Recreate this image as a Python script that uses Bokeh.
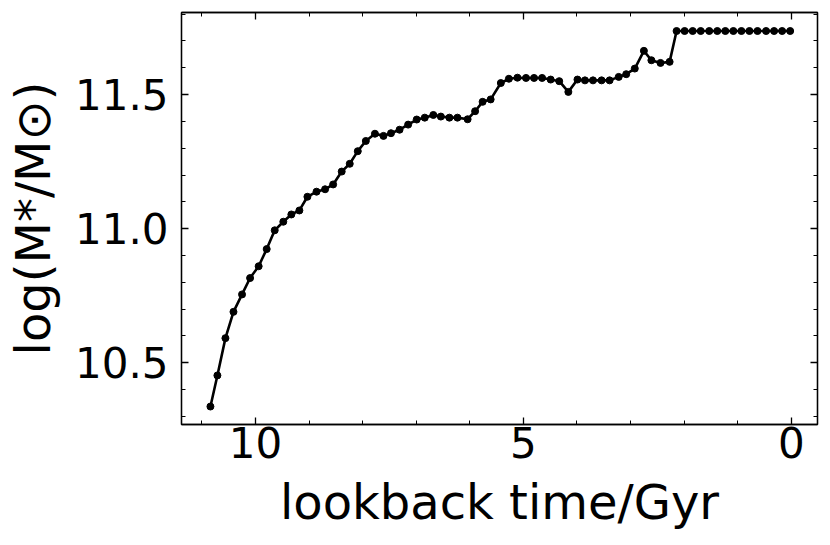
from bokeh.plotting import figure
from bokeh.models import (Range1d, SingleIntervalTicker, LinearAxis, ColumnDataSource,
                          NumeralTickFormatter, CustomLabelingPolicy)
from bokeh.embed import file_html
from bokeh.resources import INLINE

# lookback time (Gyr) and log stellar mass
lookback_time = [10.84, 10.71, 10.56, 10.41, 10.25, 10.10, 9.94, 9.79, 9.64, 9.48,
                 9.33, 9.18, 9.03, 8.86, 8.70, 8.55, 8.39, 8.24, 8.09, 7.94,
                 7.77, 7.61, 7.47, 7.31, 7.15, 6.99, 6.84, 6.68, 6.54, 6.38,
                 6.23, 6.04, 5.90, 5.76, 5.61, 5.42, 5.27, 5.11, 4.95, 4.80,
                 4.65, 4.49, 4.33, 4.16, 3.99, 3.85, 3.70, 3.54, 3.39, 3.22,
                 3.08, 2.92, 2.75, 2.61, 2.44, 2.27, 2.14, 1.99, 1.84, 1.69,
                 1.53, 1.38, 1.23, 1.08, 0.93, 0.78, 0.63, 0.47, 0.32, 0.17, 0.02]
log_mass = [10.337, 10.453, 10.592, 10.690, 10.755, 10.816, 10.860, 10.924, 10.994, 11.026,
            11.053, 11.068, 11.119, 11.138, 11.147, 11.165, 11.213, 11.242, 11.289, 11.327,
            11.354, 11.346, 11.356, 11.369, 11.388, 11.407, 11.414, 11.424, 11.418, 11.414,
            11.414, 11.408, 11.438, 11.473, 11.482, 11.543, 11.559, 11.563, 11.562, 11.562,
            11.562, 11.556, 11.550, 11.510, 11.556, 11.553, 11.553, 11.553, 11.553, 11.566,
            11.576, 11.597, 11.663, 11.628, 11.618, 11.622, 11.737, 11.737, 11.737, 11.737,
            11.737, 11.737, 11.737, 11.737, 11.737, 11.737, 11.737, 11.737, 11.737, 11.737, 11.737]

x_label = "lookback time/Gyr"
y_label = "log(M*/M\u2299)"

src = ColumnDataSource(dict(t=lookback_time, m=log_mass))

p = figure(width=826, height=541, output_backend="svg", toolbar_location=None,
           x_range=Range1d(11.38, -0.49), y_range=Range1d(10.270, 11.806),
           x_axis_location="below", y_axis_location="left")
p.min_border_left = 181
p.min_border_right = 9
p.min_border_top = 12
p.min_border_bottom = 117
p.grid.visible = False
p.background_fill_color = "white"
p.border_fill_color = "white"
p.outline_line_color = "black"
p.outline_line_width = 1.3

p.line("t", "m", source=src, line_color="black", line_width=2.6)
p.scatter("t", "m", source=src, size=7, fill_color="black", line_color="black")

FONT = "DejaVu Sans"

def style_axis(ax):
    ax.axis_line_color = "black"
    ax.axis_line_width = 1.3
    ax.major_tick_in = 7
    ax.major_tick_out = 0
    ax.minor_tick_in = 4
    ax.minor_tick_out = 0
    ax.major_tick_line_width = 1.3
    ax.minor_tick_line_width = 1.0
    ax.major_tick_line_color = "black"
    ax.minor_tick_line_color = "black"
    ax.major_label_text_font = FONT
    ax.major_label_text_color = "black"
    ax.major_label_text_font_size = "42px"

no_labels = CustomLabelingPolicy(code="""
    const all = [...indices];
    for (const i of all) { indices.unset(i) }
    return indices
""")

xt = SingleIntervalTicker(interval=5, num_minor_ticks=5)
yt = SingleIntervalTicker(interval=0.5, num_minor_ticks=5)

xa = p.xaxis[0]
xa.ticker = xt
style_axis(xa)
xa.major_label_standoff = 2
xa.axis_label = x_label
xa.axis_label_text_font = FONT
xa.axis_label_text_font_size = "48px"
xa.axis_label_text_font_style = "normal"
xa.axis_label_text_color = "black"
xa.axis_label_standoff = 13

ya = p.yaxis[0]
ya.ticker = yt
ya.formatter = NumeralTickFormatter(format="0.0")
style_axis(ya)
ya.major_label_standoff = 13
ya.axis_label = y_label
ya.axis_label_text_font = FONT
ya.axis_label_text_font_size = "48px"
ya.axis_label_text_font_style = "normal"
ya.axis_label_text_color = "black"
ya.axis_label_standoff = 11

for loc, tk in (("above", SingleIntervalTicker(interval=5, num_minor_ticks=5)),
                ("right", SingleIntervalTicker(interval=0.5, num_minor_ticks=5))):
    ax = LinearAxis(ticker=tk)
    style_axis(ax)
    ax.major_label_text_font_size = "0px"
    ax.major_label_policy = no_labels
    ax.major_label_standoff = 0
    p.add_layout(ax, loc)

open("out.html", "w").write(file_html(p, INLINE))
